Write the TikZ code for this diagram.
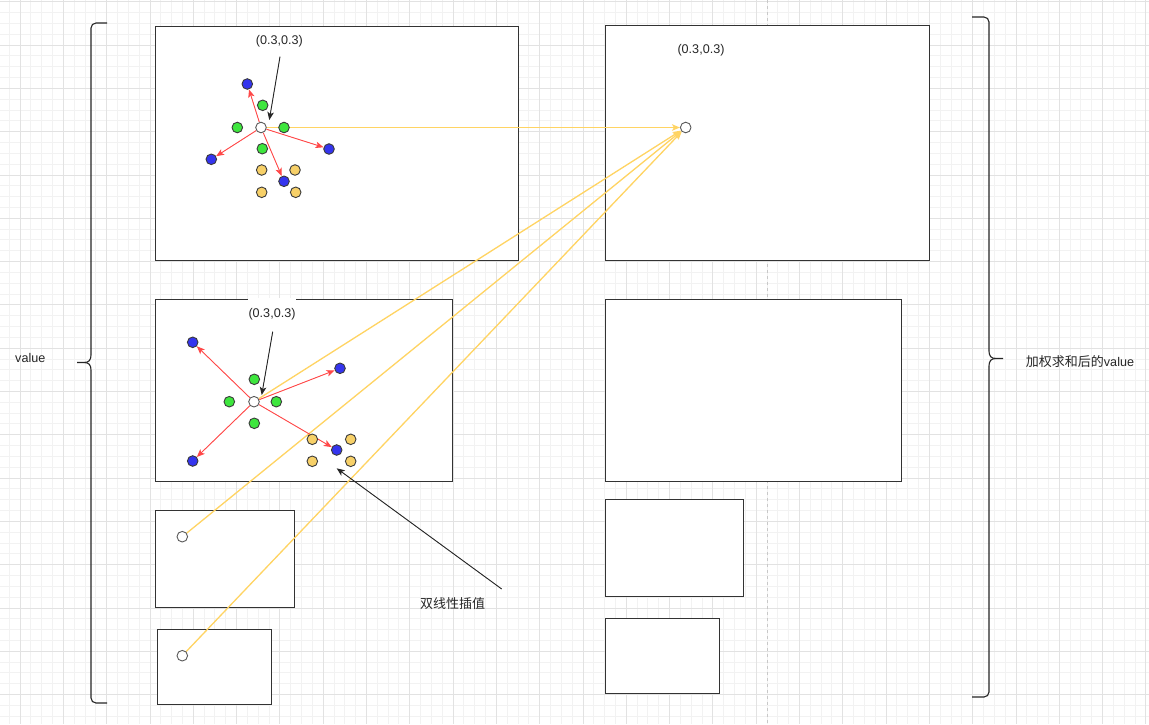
\documentclass[tikz,border=0pt]{standalone}
\usepackage{fontspec}
\setmainfont{Liberation Sans}
\newfontfamily\cjk{Noto Sans CJK SC}
\usetikzlibrary{arrows.meta}
\pgfdeclarelayer{back}
\pgfdeclarelayer{mid}
\pgfsetlayers{back,mid,main}
\definecolor{gmin}{HTML}{F2F2F2}
\definecolor{gmaj}{HTML}{E2E2E2}
\definecolor{edge}{HTML}{333333}
\definecolor{dotline}{HTML}{3A3A3A}
\definecolor{cgreen}{HTML}{3EE63E}
\definecolor{cblue}{HTML}{3434EE}
\definecolor{cyellow}{HTML}{F7D068}
\definecolor{cred}{HTML}{FF4848}
\definecolor{cyel}{HTML}{FFD463}
\definecolor{pagebrk}{HTML}{C8C8C8}
\begin{document}
\begin{tikzpicture}[x=1pt,y=-1pt,
  box/.style={draw=edge, line width=1.2pt, fill=white, inner sep=0pt, anchor=north west},
  dot/.style={circle, draw=dotline, line width=0.9pt, inner sep=0pt, minimum size=10.6pt},
  wdot/.style={dot, fill=white, draw=black!65},
  gdot/.style={dot, fill=cgreen},
  bdot/.style={dot, fill=cblue},
  ydot/.style={dot, fill=cyellow},
  tip/.style={-{Stealth[length=8pt,width=6.5pt,inset=2pt]}},
  redarrow/.style={tip, draw=cred, fill=cred, line width=0.9pt},
  yelarrow/.style={tip, draw=cyel, fill=cyel, line width=1.3pt},
  blkarrow/.style={tip, draw=black!85, fill=black!85, line width=0.9pt},
  lbl/.style={font=\fontsize{12.6}{15}\selectfont, text=black!85, inner sep=1pt},
  cjklbl/.style={font=\fontsize{13}{15}\selectfont, text=black!85, inner sep=1pt},
  bracestyle/.style={draw=black!85, line width=1.1pt}
]
\useasboundingbox (0,0) rectangle (1149,724);
\begin{pgfonlayer}{back}
\fill[white] (0,0) rectangle (1149,724);
% grid
\foreach \i in {0,...,105} {
  \draw[gmin, line width=0.8pt] ({9.175+10.825*\i},0) -- ({9.175+10.825*\i},724);
}
\foreach \i in {0,...,66} {
  \draw[gmin, line width=0.8pt] (0,{1.7+10.825*\i}) -- (1149,{1.7+10.825*\i});
}
\foreach \i in {0,...,26} {
  \draw[gmaj, line width=0.8pt] ({20+43.3*\i},0) -- ({20+43.3*\i},724);
}
\foreach \i in {0,...,16} {
  \draw[gmaj, line width=0.8pt] (0,{1.7+43.3*\i}) -- (1149,{1.7+43.3*\i});
}
% page break line
\draw[pagebrk, line width=0.8pt, dash pattern=on 3pt off 3pt] (767,0) -- (767,724);
% boxes
\node[box, minimum width=363pt, minimum height=234pt] (A1) at (155,26) {};
\node[box, minimum width=297pt, minimum height=182pt] (A2) at (155,299) {};
\node[box, minimum width=139pt, minimum height=97pt] (A3) at (155,510) {};
\node[box, minimum width=114pt, minimum height=75pt] (A4) at (157,629) {};
\node[box, minimum width=324pt, minimum height=235pt] (B1) at (605,25) {};
\node[box, minimum width=296pt, minimum height=182pt] (B2) at (605,299) {};
\node[box, minimum width=138pt, minimum height=97pt] (B3) at (605,499) {};
\node[box, minimum width=114pt, minimum height=75pt] (B4) at (605,618) {};
% left brace
\draw[bracestyle, rounded corners=5pt] (107,23) -- (91,23) -- (91,355);
\draw[bracestyle] (91,355) .. controls (91,360) and (89,362.5) .. (84,362.5) -- (77,362.5);
\draw[bracestyle] (84,362.5) .. controls (89,362.5) and (91,365) .. (91,370);
\draw[bracestyle, rounded corners=5pt] (91,370) -- (91,703) -- (107,703);
% right brace
\draw[bracestyle, rounded corners=5pt] (972,17) -- (989,17) -- (989,351);
\draw[bracestyle] (989,351) .. controls (989,356) and (991,358.5) .. (996,358.5) -- (1003,358.5);
\draw[bracestyle] (996,358.5) .. controls (991,358.5) and (989,361) .. (989,366);
\draw[bracestyle, rounded corners=5pt] (989,366) -- (989,697) -- (972,697);
\end{pgfonlayer}

% dots, box A1
\node[wdot] (ac) at (261,127.5) {};
\node[bdot] (a1b1) at (247.3,84) {};
\node[bdot] (a1b2) at (329,149) {};
\node[bdot] (a1b3) at (211.3,159.3) {};
\node[bdot] (a1b4) at (284,181.3) {};
\node[gdot] (a1g1) at (262.7,105.3) {};
\node[gdot] (a1g2) at (237.3,127.5) {};
\node[gdot] (a1g3) at (284,127.5) {};
\node[gdot] (a1g4) at (262.3,148.7) {};
\node[ydot] (a1y1) at (261.7,170) {};
\node[ydot] (a1y2) at (295,170) {};
\node[ydot] (a1y3) at (261.7,192.3) {};
\node[ydot] (a1y4) at (295.7,192.3) {};
% dots, box A2
\node[wdot] (a2c) at (254,401.7) {};
\node[bdot] (a2b1) at (192.7,342.3) {};
\node[bdot] (a2b2) at (340,368.3) {};
\node[bdot] (a2b3) at (192.7,461) {};
\node[bdot] (a2b4) at (336.7,450) {};
\node[gdot] (a2g1) at (254.3,379.3) {};
\node[gdot] (a2g2) at (229.3,401.7) {};
\node[gdot] (a2g3) at (276.3,401.7) {};
\node[gdot] (a2g4) at (254.3,423.3) {};
\node[ydot] (a2y1) at (312.3,439.3) {};
\node[ydot] (a2y2) at (350.7,439.3) {};
\node[ydot] (a2y3) at (312.3,461.3) {};
\node[ydot] (a2y4) at (350.7,461.3) {};
% other white dots
\node[wdot] (a3c) at (182.3,536.7) {};
\node[wdot] (a4c) at (182.3,655.7) {};
\node[wdot] (bc) at (685.7,127.5) {};

% labels
\node[lbl] (l1) at (279.3,41) {(0.3,0.3)};
\node[lbl, fill=white, minimum width=44pt, minimum height=32pt] (l2) at (272,314.3) {(0.3,0.3)};
\node[lbl] (l3) at (701,50.7) {(0.3,0.3)};
\node[lbl] (lv) at (30.3,357.7) {value};
\node[cjklbl] (lw) at (1080,361.7) {{\cjk 加权求和后的}\fontsize{12.6}{15}\selectfont value};
\node[cjklbl] (lb) at (452.5,603.3) {\cjk 双线性插值};

% annotation arrow ends
\coordinate (t1s) at (280,56.7);
\coordinate (t1e) at (269.3,120);
\coordinate (t2s) at (272.7,331.7);
\coordinate (t2e) at (261.7,395);
\coordinate (t3s) at (501.7,589);
\coordinate (t3e) at (336.7,468.3);

\begin{pgfonlayer}{mid}
\draw[yelarrow] (ac) -- (bc);
\draw[yelarrow] (a2c) -- (bc);
\draw[yelarrow] (a3c) -- (bc);
\draw[yelarrow] (a4c) -- (bc);
\draw[redarrow] (ac) -- (a1b1);
\draw[redarrow] (ac) -- (a1b2);
\draw[redarrow] (ac) -- (a1b3);
\draw[redarrow] (ac) -- (a1b4);
\draw[redarrow] (a2c) -- (a2b1);
\draw[redarrow] (a2c) -- (a2b2);
\draw[redarrow] (a2c) -- (a2b3);
\draw[redarrow] (a2c) -- (a2b4);
\end{pgfonlayer}
\draw[blkarrow] (t1s) -- (t1e);
\draw[blkarrow] (t2s) -- (t2e);
\draw[blkarrow] (t3s) -- (t3e);
\end{tikzpicture}
\end{document}
